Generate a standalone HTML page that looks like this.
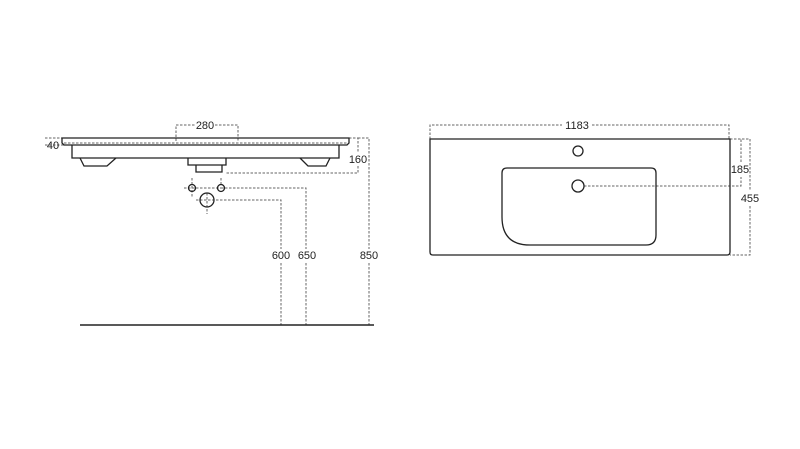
<!DOCTYPE html>
<html><head><style>
html,body{margin:0;padding:0;background:#fff;}
svg{display:block;}
text{font-family:"Liberation Sans",sans-serif;font-size:11px;fill:#222;text-anchor:middle;}
</style></head><body>
<svg width="800" height="449" viewBox="0 0 800 449" xmlns="http://www.w3.org/2000/svg">
<g fill="none" stroke="#666" stroke-width="1" stroke-dasharray="2.5,1.5">
<path d="M176,141 V125 H195 M215,125 H238 V141"/>
<path d="M45,138 H62 M45,145 H72"/>
<path d="M64,143 H347"/>
<path d="M349,138 H358 V153 M358,166 V173 H226"/>
<path d="M358,138 H369 V249 M369,263 V325"/>
<path d="M192,178 V198 M221,178 V184 M184,188 H226 M221,188 H306 V249 M306,263 V325"/>
<path d="M207,193 V214 M196,200 H281 V249 M281,263 V325"/>
<path d="M430,139 V125 H562 M592,125 H729 V139"/>
<path d="M730,139 H750 V190 M750,206 V255 H730"/>
<path d="M584,186 H741 V177 M741,162 V139"/>
</g>
<g fill="none" stroke="#222" stroke-width="1.3">
<path d="M62,138 H349 V143 L347,145 H64 L62,143 Z"/>
<path d="M72,145 V158 H339 V145"/>
<path d="M80,158 L84,166 H107 L116,158"/>
<path d="M300,158 L308,166 H326 L330,158"/>
<path d="M188,158 V165 H226 V158 M196,165 V172 H222 V165"/>
<circle cx="192" cy="188" r="3.5"/>
<circle cx="221" cy="188" r="3.5"/>
<circle cx="207" cy="200" r="7"/>
<path d="M80,325 H374" stroke-width="1.6"/>
<path d="M430,139 H730 V252 Q730,255 727,255 H433 Q430,255 430,252 Z"/>
<circle cx="578" cy="151" r="5"/>
<path d="M507,168 H651 Q656,168 656,173 V235 Q656,245 646,245 H530 Q502,245 502,217 V173 Q502,168 507,168 Z"/>
<circle cx="578" cy="186" r="6"/>
</g>
<text x="205" y="129">280</text>
<text x="53" y="149">40</text>
<text x="358" y="163">160</text>
<text x="281" y="259">600</text>
<text x="307" y="259">650</text>
<text x="369" y="259">850</text>
<text x="577" y="129">1183</text>
<text x="740" y="173">185</text>
<text x="750" y="202">455</text>
</svg>
</body></html>
